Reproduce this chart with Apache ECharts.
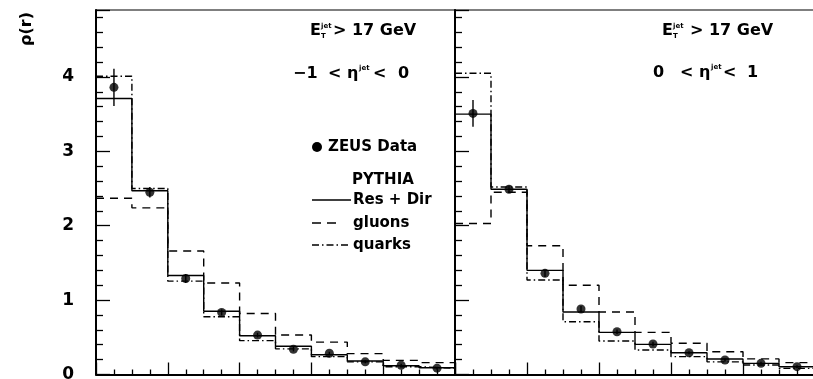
<!DOCTYPE html>
<html><head><meta charset="utf-8">
<script src="https://cdn.jsdelivr.net/npm/echarts@6/dist/echarts.min.js"></script>
<style>html,body{margin:0;padding:0;background:#fff}#c{width:813px;height:379px}</style>
</head><body><div id="c"></div>
<script>
// ---- data ----
const binEdges = [0, 0.1, 0.2, 0.3, 0.4, 0.5, 0.6, 0.7, 0.8, 0.9, 1.0];
const yTicks = [0, 1, 2, 3, 4];
// left panel: -1 < eta < 0
const dataL   = [3.86, 2.45, 1.29, 0.835, 0.53, 0.34, 0.285, 0.17, 0.125, 0.085];
const errL    = [0.25, 0.07, 0.06, 0.04, 0.03, 0.03, 0.02, 0.02, 0.02, 0.02];
const resDirL = [3.71, 2.47, 1.33, 0.85, 0.52, 0.38, 0.265, 0.182, 0.118, 0.09];
const gluonsL = [2.37, 2.24, 1.66, 1.23, 0.82, 0.53, 0.435, 0.28, 0.19, 0.16];
const quarksL = [4.01, 2.50, 1.255, 0.776, 0.455, 0.345, 0.24, 0.17, 0.105, 0.083];
// right panel: 0 < eta < 1
const dataR   = [3.51, 2.49, 1.36, 0.88, 0.575, 0.41, 0.293, 0.195, 0.15, 0.105];
const errR    = [0.18, 0.05, 0.05, 0.04, 0.03, 0.03, 0.02, 0.02, 0.02, 0.02];
const resDirR = [3.50, 2.49, 1.40, 0.84, 0.566, 0.405, 0.293, 0.208, 0.15, 0.105];
const gluonsR = [2.03, 2.45, 1.73, 1.20, 0.84, 0.566, 0.42, 0.306, 0.21, 0.16];
const quarksR = [4.05, 2.52, 1.27, 0.71, 0.45, 0.33, 0.24, 0.17, 0.127, 0.083];

const FONT = 'DejaVu Sans';
function stepData(vals) {
  const d = vals.map((v, i) => [binEdges[i], v]);
  d.push([binEdges[binEdges.length - 1], vals[vals.length - 1]]);
  return d;
}
function centers(vals, errs) {
  return vals.map((v, i) => [(binEdges[i] + binEdges[i + 1]) / 2, v, errs[i]]);
}
const DASH = [8, 6];
const DASHDOT = [7, 3, 1.5, 3];

function histSeries(idx, vals, type) {
  return {
    type: 'line', xAxisIndex: idx, yAxisIndex: idx * 2, step: 'end',
    data: stepData(vals), showSymbol: false, symbol: 'none', silent: true,
    lineStyle: { color: '#000', width: 1.4, type: type }, z: 3
  };
}
function pointsSeries(idx, vals, errs) {
  return [{
    type: 'custom', xAxisIndex: idx, yAxisIndex: idx * 2, data: centers(vals, errs), z: 4,
    renderItem: function (params, api) {
      const x = api.value(0), y = api.value(1), e = api.value(2);
      const p1 = api.coord([x, y - e]), p2 = api.coord([x, y + e]);
      return { type: 'line', shape: { x1: p1[0], y1: p1[1], x2: p2[0], y2: p2[1] },
        style: { stroke: '#000', lineWidth: 1.4 } };
    }
  }, {
    type: 'scatter', xAxisIndex: idx, yAxisIndex: idx * 2, data: centers(vals, errs).map(d => [d[0], d[1]]),
    symbol: 'circle', symbolSize: 9, itemStyle: { color: '#000' }, z: 5
  }];
}
function xAx(gi) {
  return {
    type: 'value', gridIndex: gi, min: 0, max: 1, interval: 0.2,
    axisLine: { show: true, lineStyle: { color: '#000', width: 2 } },
    axisTick: { show: true, inside: true, length: 12, lineStyle: { color: '#000', width: 1.3 } },
    minorTick: { show: true, splitNumber: 4, length: 5, lineStyle: { color: '#000', width: 1.3 } },
    axisLabel: { show: false }, splitLine: { show: false }
  };
}
function yAxes(gi, labels) {
  return [{
    type: 'value', gridIndex: gi, min: 0, max: 4.9, interval: 1, position: 'left',
    axisLine: { show: true, lineStyle: { color: '#000', width: 2 } },
    axisTick: { show: true, inside: true, length: 14, lineStyle: { color: '#000', width: 1.3 } },
    minorTick: { show: true, splitNumber: 5, length: 7, lineStyle: { color: '#000', width: 1.3 } },
    axisLabel: { show: labels, showMaxLabel: false, margin: 22, color: '#000',
      fontFamily: FONT, fontWeight: 'bold', fontSize: 17,
      formatter: v => (yTicks.indexOf(v) >= 0 ? String(v) : '') },
    splitLine: { show: false }
  }];
}

const T = (text, x, y, size, extra) => Object.assign({
  type: 'text', x: x, y: y,
  style: { text: text, fill: '#000', font: 'bold ' + size + 'px "' + FONT + '"', textVerticalAlign: 'middle', textAlign: 'left' }
}, extra || {});

const graphics = [
  // y axis title
  { type: 'text', x: 27, y: 29, rotation: Math.PI / 2,
    style: { text: 'ρ(r)', fill: '#000', font: 'bold 16px "' + FONT + '"', textAlign: 'center', textVerticalAlign: 'middle' } },
  // left panel annotations
  T('E', 310, 31, 16), T('jet', 321, 26, 7), T('T', 321, 36, 7), T('> 17 GeV', 333, 31, 16),
  T('−1', 293, 74, 16), T('< η', 328, 74, 16), T('jet', 359, 68, 7), T('<', 373, 74, 16), T('0', 398, 74, 16),
  // right panel annotations
  T('E', 662, 31, 16), T('jet', 673, 26, 7), T('T', 673, 36, 7), T('> 17 GeV', 690, 31, 16),
  T('0', 653, 73, 16), T('< η', 680, 73, 16), T('jet', 711, 67, 7), T('<', 723, 73, 16), T('1', 747, 73, 16),
  // legend
  { type: 'circle', shape: { cx: 317, cy: 147, r: 5 }, style: { fill: '#000' } },
  T('ZEUS Data', 328, 147, 15),
  T('PYTHIA', 352, 180, 15),
  { type: 'line', shape: { x1: 312, y1: 200, x2: 351, y2: 200 }, style: { stroke: '#000', lineWidth: 1.4 } },
  T('Res + Dir', 353, 200, 15),
  { type: 'line', shape: { x1: 312, y1: 223, x2: 336, y2: 223 }, style: { stroke: '#000', lineWidth: 1.4, lineDash: [9, 6] } },
  T('gluons', 353, 223, 15),
  { type: 'line', shape: { x1: 312, y1: 245, x2: 350, y2: 245 }, style: { stroke: '#000', lineWidth: 1.4, lineDash: DASHDOT } },
  T('quarks', 353, 245, 15)
];

const chart = echarts.init(document.getElementById('c'), null, { renderer: 'canvas' });
chart.setOption({
  backgroundColor: '#fff',
  animation: false,
  grid: [
    { left: 96, top: 10, width: 359, height: 364.5, show: true, borderColor: '#000', borderWidth: 1.2,
      backgroundColor: 'transparent', containLabel: false, outerBoundsMode: 'none' },
    { left: 455, top: 10, width: 360, height: 364.5, show: true, borderColor: '#000', borderWidth: 1.2,
      backgroundColor: 'transparent', containLabel: false, outerBoundsMode: 'none' }
  ],
  xAxis: [xAx(0), xAx(1)],
  yAxis: [].concat(yAxes(0, true), [{ type: 'value', gridIndex: 0, min: 0, max: 4.9, show: false }],
                   yAxes(1, false), [{ type: 'value', gridIndex: 1, min: 0, max: 4.9, show: false }]),
  series: [].concat(
    [histSeries(0, resDirL, 'solid'), histSeries(0, gluonsL, DASH), histSeries(0, quarksL, DASHDOT)],
    pointsSeries(0, dataL, errL),
    [histSeries(1, resDirR, 'solid'), histSeries(1, gluonsR, DASH), histSeries(1, quarksR, DASHDOT)],
    pointsSeries(1, dataR, errR)
  ),
  graphic: graphics
});
</script></body></html>
